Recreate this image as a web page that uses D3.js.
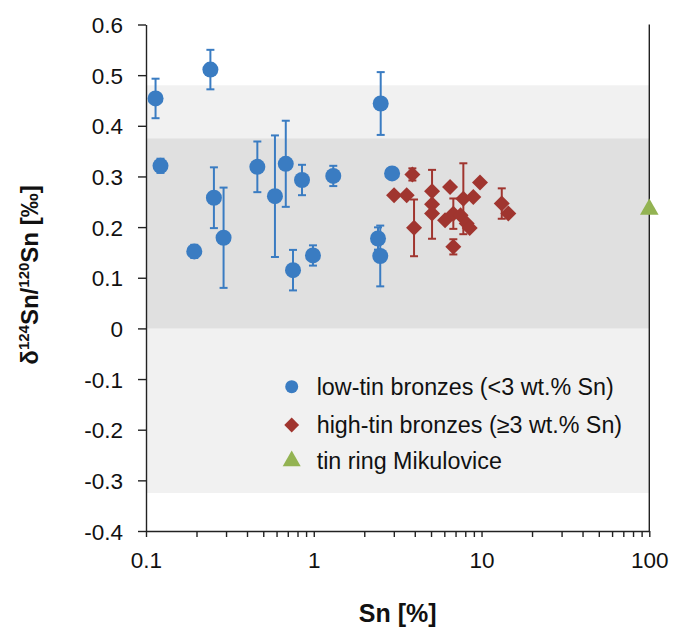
<!DOCTYPE html>
<html>
<head>
<meta charset="utf-8">
<script src="https://cdn.jsdelivr.net/npm/d3@7"></script>
<style>
  html, body { margin: 0; padding: 0; background: #fff; }
  svg { display: block; font-family: "Liberation Sans", Arial, sans-serif; }
</style>
</head>
<body>
<svg id="chart" width="673" height="628"></svg>
<script>
// Sn content [%] and δ124Sn/120Sn [‰] with 2SD uncertainties
const lowSn    = [0.114, 0.122, 0.242, 0.194, 0.254, 0.290, 0.461, 0.587, 0.681, 0.851, 0.752, 0.989, 1.307, 2.506, 2.415, 2.49, 2.93];
const lowDelta = [0.454, 0.321, 0.511, 0.152, 0.258, 0.179, 0.319, 0.261, 0.325, 0.293, 0.115, 0.144, 0.301, 0.444, 0.1775, 0.143, 0.306];
const lowErr   = [0.039, 0.014, 0.039, 0.013, 0.060, 0.099, 0.050, 0.120, 0.085, 0.030, 0.040, 0.020, 0.020, 0.062, 0.022, 0.060, 0.000];

const highSn    = [3.01, 3.58, 3.87, 3.96, 5.07, 5.07, 5.07, 6.49, 6.06, 6.79, 6.79, 7.5, 7.79, 8.16, 8.5, 8.93, 9.79, 13.2, 14.44];
const highDelta = [0.263, 0.263, 0.304, 0.1985, 0.271, 0.245, 0.227, 0.279, 0.2136, 0.2265, 0.161, 0.2235, 0.256, 0.207, 0.198, 0.2596, 0.288, 0.2465, 0.2268];
const highErr   = [0.000, 0.000, 0.012, 0.056, 0.000, 0.068, 0.000, 0.000, 0.000, 0.030, 0.015, 0.000, 0.070, 0.000, 0.000, 0.000, 0.000, 0.030, 0.000];

const ringSn    = [100];
const ringDelta = [0.237];
const ringErr   = [0];

// shaded reference ranges [min, max] in ‰
const outerRange = [-0.325, 0.48];
const innerRange = [0, 0.375];

const xTicks = [0.1, 1, 10, 100];
const xMinorTicks = [0.2,0.3,0.4,0.5,0.6,0.7,0.8,0.9, 2,3,4,5,6,7,8,9, 20,30,40,50,60,70,80,90];
const yTicks = [-0.4, -0.3, -0.2, -0.1, 0, 0.1, 0.2, 0.3, 0.4, 0.5, 0.6];

const legendLabels = ["low-tin bronzes (<3 wt.% Sn)", "high-tin bronzes (\u22653 wt.% Sn)", "tin ring Mikulovice"];

const colors = { low: "#3a7cc2", high: "#a0352f", ring: "#93b352" };

const svg = d3.select("#chart");
const plotLeft = 146, plotRight = 649.3, plotTop = 24.5, plotBottom = 531;

const x = d3.scaleLog().domain([0.1, 100]).range([plotLeft, plotRight]);
const y = d3.scaleLinear().domain([-0.4, 0.6]).range([plotBottom, plotTop]);

// shaded bands
svg.append("rect")
  .attr("x", plotLeft).attr("width", plotRight - plotLeft)
  .attr("y", y(outerRange[1])).attr("height", y(outerRange[0]) - y(outerRange[1]))
  .attr("fill", "#f1f1f1");
svg.append("rect")
  .attr("x", plotLeft).attr("width", plotRight - plotLeft)
  .attr("y", y(innerRange[1])).attr("height", y(innerRange[0]) - y(innerRange[1]))
  .attr("fill", "#e0e0e0");

// axes
const fontSize = 22.5;
const yAxis = svg.append("g")
  .attr("transform", `translate(${plotLeft},0)`)
  .call(d3.axisLeft(y).tickValues(yTicks).tickSize(8).tickSizeOuter(0)
    .tickFormat(d => d === 0 ? "0" : d.toFixed(1)));
yAxis.selectAll("text").attr("x", -23).attr("dy", "0.36em")
  .attr("font-size", fontSize).attr("fill", "#111")
  .attr("font-family", "Liberation Sans, Arial, sans-serif");

const xAxis = svg.append("g")
  .attr("transform", `translate(0,${plotBottom})`)
  .call(d3.axisBottom(x).tickValues(xTicks).tickSize(6).tickSizeOuter(0)
    .tickFormat(d => String(d)));
xAxis.selectAll("text").attr("y", 37).attr("dy", 0)
  .attr("font-size", fontSize).attr("fill", "#111")
  .attr("font-family", "Liberation Sans, Arial, sans-serif");

const xMinor = svg.append("g")
  .attr("transform", `translate(0,${plotBottom})`)
  .call(d3.axisBottom(x).tickValues(xMinorTicks).tickSize(6).tickSizeOuter(0).tickFormat(""));
xMinor.select(".domain").remove();

svg.selectAll(".domain, .tick line").attr("stroke", "#222").attr("stroke-width", 1.4);

// right frame line
svg.append("line")
  .attr("x1", plotRight).attr("x2", plotRight).attr("y1", plotTop).attr("y2", plotBottom)
  .attr("stroke", "#222").attr("stroke-width", 1.4);

// error bars
function errorBars(xs, ys, es, color) {
  const g = svg.append("g").attr("stroke", color).attr("stroke-width", 2).attr("fill", "none");
  xs.forEach((sn, i) => {
    const e = es[i];
    if (!e) return;
    const cx = x(sn), y1 = y(ys[i] + e), y2 = y(ys[i] - e);
    g.append("line").attr("x1", cx).attr("x2", cx).attr("y1", y1).attr("y2", y2);
    g.append("line").attr("x1", cx - 4).attr("x2", cx + 4).attr("y1", y1).attr("y2", y1);
    g.append("line").attr("x1", cx - 4).attr("x2", cx + 4).attr("y1", y2).attr("y2", y2);
  });
}

const circleSym = d3.symbol().type(d3.symbolCircle).size(Math.PI * 8 * 8);
const diamondSym = d3.symbol().type(d3.symbolSquare).size(128);
const triangleSym = d3.symbol().type(d3.symbolTriangle).size(150);

errorBars(lowSn, lowDelta, lowErr, colors.low);
svg.append("g").selectAll("path").data(lowSn).join("path")
  .attr("d", circleSym)
  .attr("transform", (d, i) => `translate(${x(d)},${y(lowDelta[i])})`)
  .attr("fill", colors.low);

errorBars(highSn, highDelta, highErr, colors.high);
svg.append("g").selectAll("path").data(highSn).join("path")
  .attr("d", diamondSym)
  .attr("transform", (d, i) => `translate(${x(d)},${y(highDelta[i])}) rotate(45)`)
  .attr("fill", colors.high);

errorBars(ringSn, ringDelta, ringErr, colors.ring);
svg.append("g").selectAll("path").data(ringSn).join("path")
  .attr("d", triangleSym)
  .attr("transform", (d, i) => `translate(${x(d)},${y(ringDelta[i]) + 1})`)
  .attr("fill", colors.ring);

// legend
const legendSyms = [
  { sym: d3.symbol().type(d3.symbolCircle).size(Math.PI * 6.5 * 6.5), color: colors.low, rot: 0 },
  { sym: d3.symbol().type(d3.symbolSquare).size(110), color: colors.high, rot: 45 },
  { sym: d3.symbol().type(d3.symbolTriangle).size(140), color: colors.ring, rot: 0 }
];
const legendRowY = [386.7, 425, 461];
const legend = svg.append("g");
legendLabels.forEach((label, i) => {
  legend.append("path")
    .attr("d", legendSyms[i].sym)
    .attr("transform", `translate(291.7,${legendRowY[i]}) rotate(${legendSyms[i].rot})`)
    .attr("fill", legendSyms[i].color);
  legend.append("text")
    .attr("x", 316.7).attr("y", legendRowY[i] + 8)
    .attr("font-size", 23.3).attr("fill", "#111")
    .text(label);
});

// axis titles
svg.append("text")
  .attr("x", (plotLeft + plotRight) / 2).attr("y", 622)
  .attr("text-anchor", "middle")
  .attr("font-size", 25).attr("font-weight", "bold").attr("fill", "#111")
  .text("Sn [%]");

const yTitle = svg.append("text")
  .attr("transform", "translate(38,275) rotate(-90)")
  .attr("text-anchor", "middle")
  .attr("font-size", 24).attr("font-weight", "bold").attr("fill", "#111");
yTitle.append("tspan").text("\u03b4");
yTitle.append("tspan").attr("font-size", 15).attr("dy", -9).text("124");
yTitle.append("tspan").attr("dy", 9).text("Sn/");
yTitle.append("tspan").attr("font-size", 15).attr("dy", -9).text("120");
yTitle.append("tspan").attr("dy", 9).text("Sn [\u2030]");
</script>
</body>
</html>
